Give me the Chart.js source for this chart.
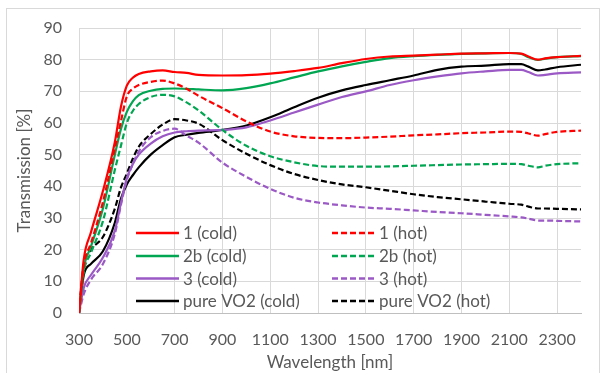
<!DOCTYPE html>
<html>
<head>
<meta charset="utf-8">
<script src="https://cdn.jsdelivr.net/npm/chart.js@4/dist/chart.umd.min.js"></script>
<style>
  html, body { margin: 0; padding: 0; background: #fff; }
  #wrap { width: 606px; height: 373px; position: relative; }
</style>
</head>
<body>
<div id="wrap"><canvas id="c" width="606" height="373"></canvas></div>
<script>
// ---- data ----
const wavelengths = [300,320,350,400,450,475,500,525,550,600,650,700,750,800,900,1000,1100,1200,1300,1400,1500,1600,1700,1800,1900,2000,2100,2150,2180,2220,2250,2300,2400];

const s1Cold  = [0,17,25.5,38.5,54,65,71.8,74.3,75.5,76.3,76.6,76.1,75.8,75.2,75,75.1,75.6,76.4,77.4,78.9,80.2,81,81.3,81.6,81.9,82,82.1,81.9,81,80,80.4,80.8,81.2];
const s1Hot   = [0,15,22,35,52,60.4,68.4,70.8,72,73,73.4,72.5,70.8,68.6,64.7,60.5,57.3,55.8,55.3,55.2,55.4,55.7,56.1,56.4,56.8,57,57.3,57.2,56.7,56,56.5,57.2,57.6];
const s2bCold = [0,14,21,33,50,58,63.5,66.8,68.8,70.2,70.8,70.9,70.8,70.6,70.3,71,72.5,74.4,76.3,77.9,79.3,80.5,81.1,81.5,81.8,82,82.1,81.8,80.8,79.9,80.3,80.8,81.1];
const s2bHot  = [0,13,19,29,45.2,52.7,60,63.8,66,68.2,68.9,68.4,66.5,64,57.8,52.8,49.5,47.6,46.4,46.2,46.2,46.3,46.5,46.7,46.9,47,47.1,47,46.5,46,46.5,47,47.3];
const s3Cold  = [0,8,12,17.5,26,34.6,42.5,47,50,53.5,55.8,57,57.4,57.6,57.8,58.6,60.8,63.3,65.8,68.2,70,72,73.5,74.7,75.7,76.3,76.8,76.8,76.1,75,75.2,75.7,76];
const s3Hot   = [0,6,10.5,15.5,25,34,42,47,51,55.5,57.5,58.2,56,53.8,47.5,43,39.2,36.4,34.9,34,33.3,32.9,32.4,31.9,31.5,31,30.5,30.2,29.8,29.2,29.2,29.1,28.9];
const vo2Cold = [0,12,15.5,19.5,28.5,36,40.6,43.5,46,50,53,55.5,56.3,56.9,57.8,59.2,61.8,65,68,70.3,72,73.5,75,76.8,77.8,78.1,78.6,78.6,77.8,76.6,76.9,77.6,78.4];
const vo2Hot  = [0,15,20,24,33,39.5,44,48.7,52.5,56.5,59.5,61.2,60.8,59.8,54.6,50.3,46.7,43.9,42,40.6,39.7,38.6,37.5,36.6,35.9,35.2,34.5,34.2,33.6,33,33,32.9,32.7];

const xTickLabels = [300,500,700,900,1100,1300,1500,1700,1900,2100,2300];
const yTickLabels = [0,10,20,30,40,50,60,70,80,90];

const seriesNames = ['1 (cold)','1 (hot)','2b (cold)','2b (hot)','3 (cold)','3 (hot)','pure VO2 (cold)','pure VO2 (hot)'];
const seriesValues = [s1Cold, s1Hot, s2bCold, s2bHot, s3Cold, s3Hot, vo2Cold, vo2Hot];
const seriesColors = ['#FF0000','#FF0000','#00A651','#00A651','#9B59C6','#9B59C6','#000000','#000000'];
const seriesDashed = [false,true,false,true,false,true,false,true];

const TEXT = '#595959';
const GRID = '#D9D9D9';
const FONT = 'Lato, "Open Sans", sans-serif';

const datasets = seriesNames.map((name, i) => ({
  label: name,
  data: wavelengths.map((w, k) => ({x: w, y: seriesValues[i][k]})),
  borderColor: seriesColors[i],
  backgroundColor: seriesColors[i],
  borderWidth: 2.2,
  borderDash: seriesDashed[i] ? [6, 3] : [],
  pointRadius: 0,
  fill: false,
  cubicInterpolationMode: 'monotone'
}));

// legend drawn inside the plot area
const insideLegend = {
  id: 'insideLegend',
  afterDatasetsDraw(chart) {
    const ctx = chart.ctx;
    const colX = [136, 332];
    const rowY = [233, 256, 278.5, 301];
    ctx.save();
    ctx.font = '17px ' + FONT;
    ctx.textBaseline = 'middle';
    ctx.textAlign = 'left';
    seriesNames.forEach((name, i) => {
      const col = i % 2, row = Math.floor(i / 2);
      const x = colX[col], y = rowY[row];
      ctx.beginPath();
      ctx.strokeStyle = seriesColors[i];
      ctx.lineWidth = 2.4;
      ctx.setLineDash(seriesDashed[i] ? [6, 3] : []);
      ctx.moveTo(x, y);
      ctx.lineTo(x + 43, y);
      ctx.stroke();
      ctx.setLineDash([]);
      ctx.fillStyle = TEXT;
      ctx.fillText(name, x + 47, y + 1);
    });
    ctx.restore();
  }
};

const frame = {
  id: 'frame',
  beforeDraw(chart) {
    const ctx = chart.ctx;
    ctx.save();
    ctx.fillStyle = '#fff';
    ctx.fillRect(0, 0, chart.width, chart.height);
    ctx.strokeStyle = '#D9D9D9';
    ctx.lineWidth = 1;
    ctx.strokeRect(6.5, 8.5, 593, 400);
    ctx.restore();
  }
};

new Chart(document.getElementById('c'), {
  type: 'line',
  data: { datasets },
  options: {
    responsive: false,
    animation: false,
    layout: { padding: { left: 14, right: 25, top: 28, bottom: 0 } },
    plugins: { legend: { display: false }, tooltip: { enabled: false } },
    scales: {
      x: {
        type: 'linear',
        min: 300, max: 2400,
        afterBuildTicks(scale) { scale.ticks = xTickLabels.map(v => ({value: v})); },
        afterFit(scale) { scale.height = 60; },
        grid: { color: GRID, lineWidth: 1, drawTicks: false },
        border: { display: true, color: '#BFBFBF', width: 1 },
        ticks: { color: TEXT, font: { family: FONT, size: 16 }, padding: 17, maxRotation: 0, autoSkip: false,
                 callback: v => String(v) },
        title: { display: true, text: 'Wavelength [nm]', color: TEXT, font: { family: FONT, size: 17 }, padding: 0 }
      },
      y: {
        min: 0, max: 90,
        afterBuildTicks(scale) { scale.ticks = yTickLabels.map(v => ({value: v})); },
        afterFit(scale) { scale.width = 65; },
        grid: { color: GRID, lineWidth: 1, drawTicks: false },
        border: { display: false },
        ticks: { color: TEXT, font: { family: FONT, size: 16 }, padding: 17, callback: v => String(v) },
        title: { display: true, text: 'Transmission [%]', color: TEXT, font: { family: FONT, size: 17 }, padding: 0 }
      }
    }
  },
  plugins: [frame, insideLegend]
});
</script>
</body>
</html>
